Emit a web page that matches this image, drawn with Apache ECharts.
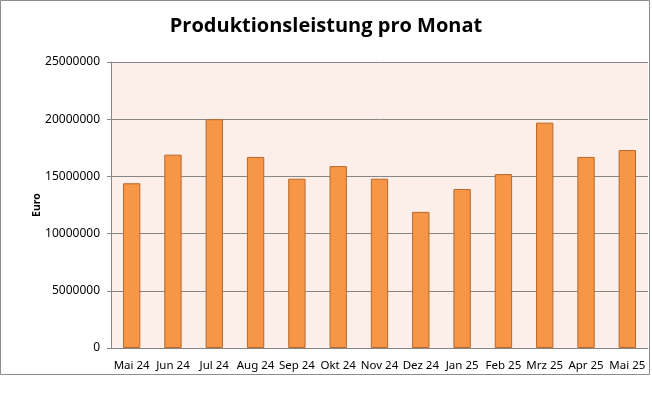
<!DOCTYPE html>
<html lang="de">
<head>
    <meta charset="UTF-8">
    <title>Produktionsleistung pro Monat</title>
    <script src="https://cdn.jsdelivr.net/npm/echarts@6/dist/echarts.min.js"></script>
    <style>
        html, body {margin: 0; padding: 0; background: #fff;}
        #main {width: 652px; height: 399px;}
    </style>
</head>
<body>
    <div id="main"></div>
<script type="text/javascript">
    // Monate und Werte (Euro)
    var months = ['Mai 24', 'Jun 24', 'Jul 24', 'Aug 24', 'Sep 24', 'Okt 24', 'Nov 24',
        'Dez 24', 'Jan 25', 'Feb 25', 'Mrz 25', 'Apr 25', 'Mai 25'];
    var euroValues = [14400000, 16900000, 20000000, 16700000, 14800000, 15900000, 14800000,
        11900000, 13900000, 15200000, 19700000, 16700000, 17300000];
    var yMin = 0;
    var yMax = 25000000;
    var yStep = 5000000;

    var axisGray = '#868686';
    var labelFont = 'Noto Sans';

    var myChart = echarts.init(document.getElementById('main'));
    var option = {
        animation: false,
        backgroundColor: '#ffffff',
        title: {
            text: 'Produktionsleistung pro Monat',
            left: 'center',
            top: 11,
            textStyle: {
                fontFamily: 'Open Sans',
                fontWeight: 'bold',
                fontSize: 20,
                color: '#000'
            }
        },
        graphic: [{
            type: 'rect',
            shape: {x: 0.5, y: 0.5, width: 649, height: 374},
            style: {fill: 'none', stroke: '#8c8c8c', lineWidth: 1},
            silent: true
        }],
        grid: {
            left: 111,
            right: 4,
            top: 62,
            bottom: 51,
            show: true,
            backgroundColor: '#fcefea',
            borderWidth: 0
        },
        xAxis: {
            type: 'category',
            data: months,
            axisLine: {lineStyle: {color: axisGray}},
            axisTick: {show: false},
            axisLabel: {
                interval: 0,
                margin: 12,
                fontFamily: labelFont,
                fontSize: 11.5,
                color: '#000'
            }
        },
        yAxis: {
            type: 'value',
            min: yMin,
            max: yMax,
            interval: yStep,
            name: 'Euro',
            nameLocation: 'middle',
            nameGap: 68,
            nameMoveOverlap: false,
            nameRotate: 90,
            nameTextStyle: {
                fontFamily: labelFont,
                fontWeight: 'bold',
                fontSize: 10.5,
                color: '#000'
            },
            axisLine: {show: true, lineStyle: {color: axisGray}},
            axisTick: {show: true, length: 4, lineStyle: {color: axisGray}},
            axisLabel: {
                margin: 11,
                fontFamily: labelFont,
                fontSize: 12,
                color: '#000',
                formatter: function (v) { return String(v); }
            },
            splitLine: {lineStyle: {color: axisGray, width: 1}}
        },
        series: [{
            type: 'bar',
            data: euroValues,
            barWidth: '42%',
            itemStyle: {
                color: '#f79646',
                borderColor: '#b8682c',
                borderWidth: 1
            }
        }]
    };
    myChart.setOption(option);
</script>
</body>
</html>
